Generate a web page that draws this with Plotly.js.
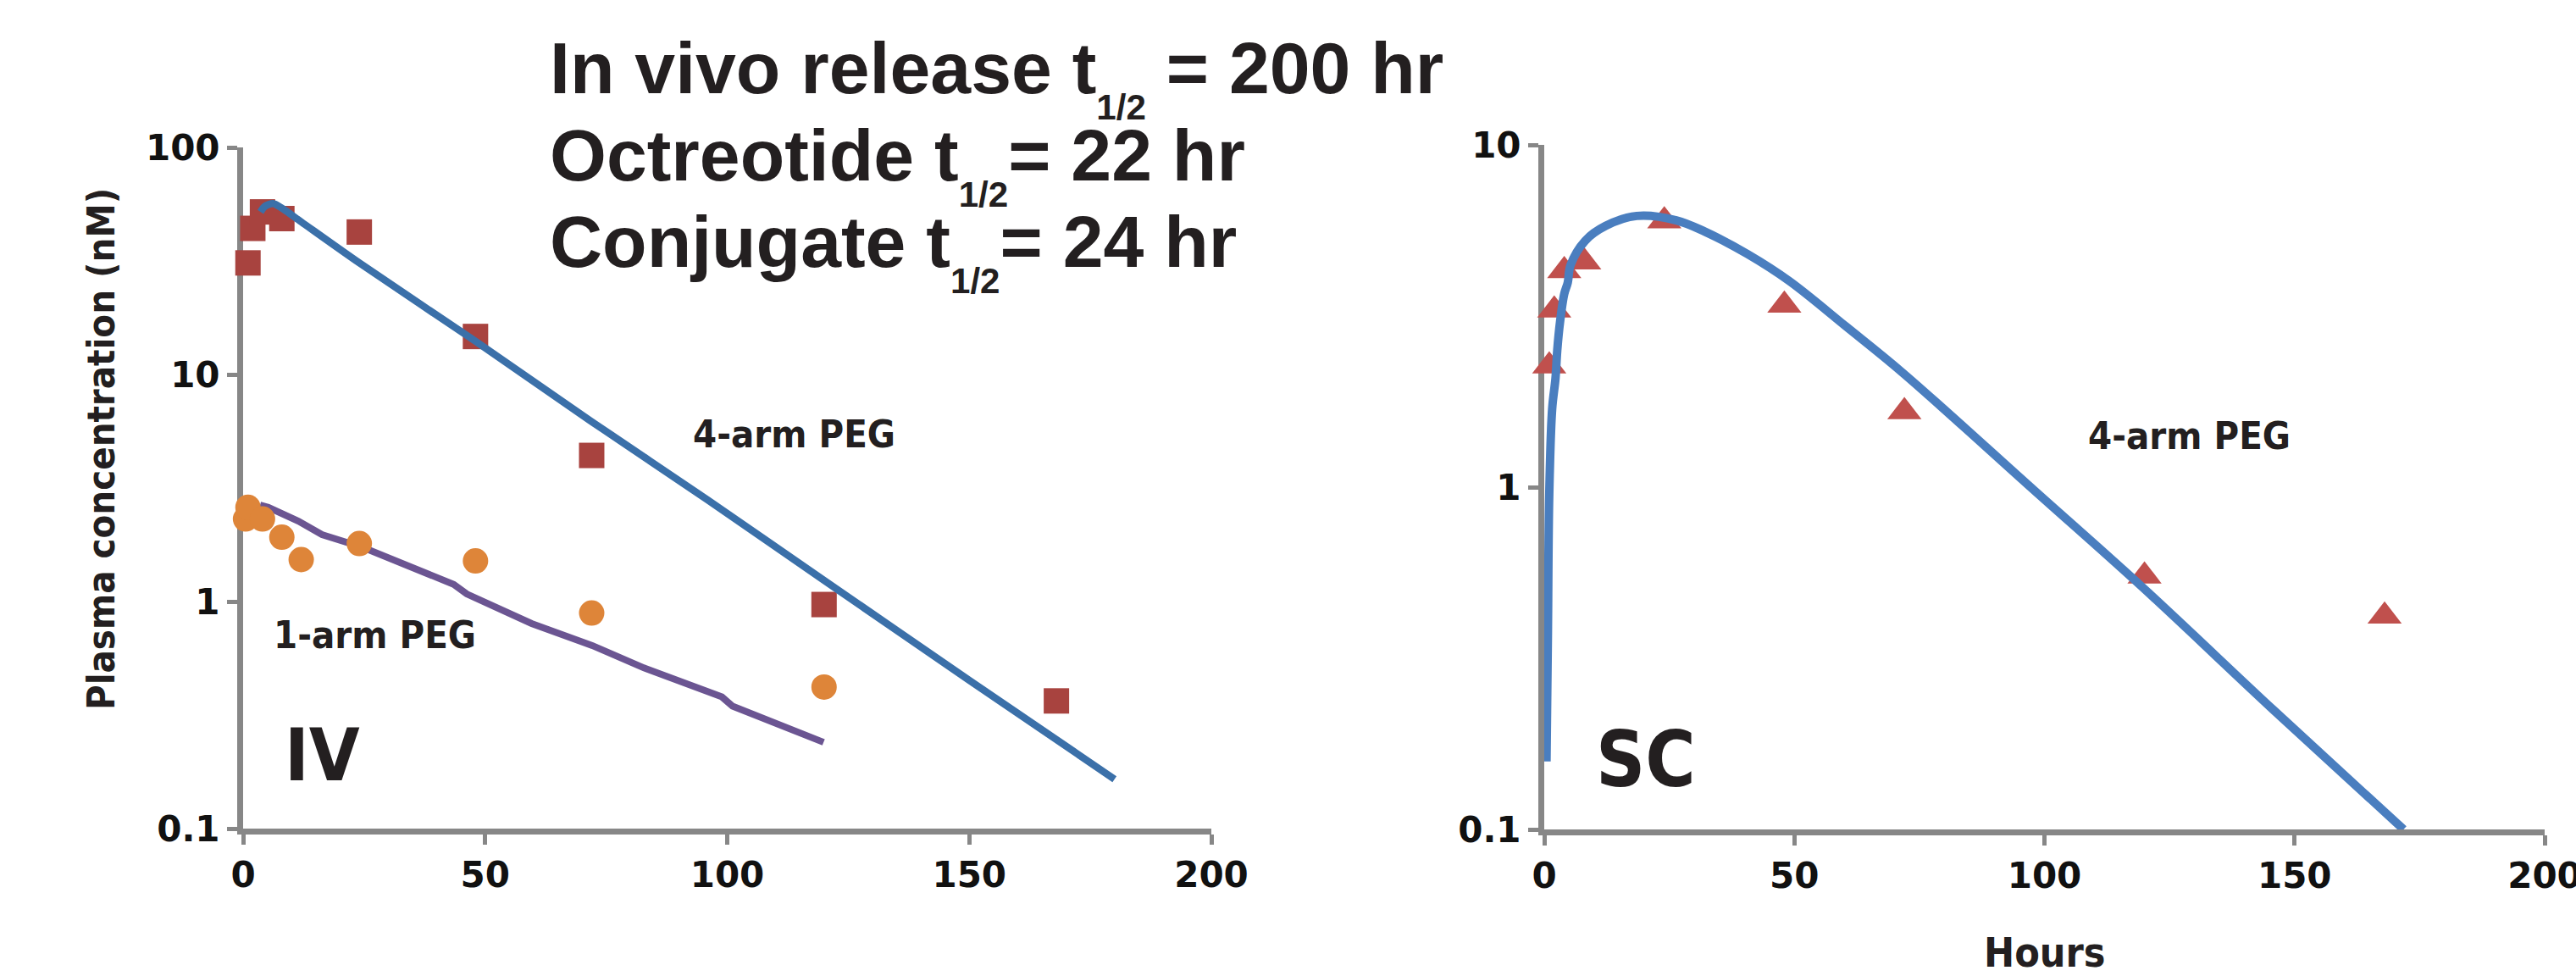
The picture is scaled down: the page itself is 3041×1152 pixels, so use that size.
<!DOCTYPE html>
<html>
<head>
<meta charset="utf-8">
<script src="https://cdn.plot.ly/plotly-3.0.1.min.js"></script>
<style>
html, body { margin: 0; padding: 0; background: #ffffff; }
#chart { width: 3041px; height: 1152px; }
</style>
</head>
<body>
<div id="chart"></div>
<script>
// ---------- DATA ----------
// IV panel, 4-arm PEG conjugate (squares)
const ivFourArmHours = [1, 2, 4, 8, 24, 48, 72, 120, 168];
const ivFourArmConc  = [31, 44, 52, 48.6, 42.4, 14.7, 4.4, 0.97, 0.365];
// IV panel, 1-arm PEG conjugate (circles)
const ivOneArmHours = [0.5, 1, 4, 8, 12, 24, 48, 72, 120];
const ivOneArmConc  = [2.31, 2.6, 2.31, 1.92, 1.53, 1.8, 1.51, 0.89, 0.42];
// IV panel, model curve for 4-arm PEG
const ivFourArmFitHours = [3.6, 4.5, 6.2, 8, 12, 24, 48, 72, 96, 120, 150, 180];
const ivFourArmFitConc  = [52, 55, 56.6, 54, 47, 31, 14, 6.2, 2.8, 1.24, 0.45, 0.165];
// IV panel, model curve for 1-arm PEG
const ivOneArmFitHours = [3.5, 5.2, 11.4, 16.3, 24.8, 31.9, 43.5, 46.2, 59.6, 72.1, 82.8, 98.9, 101.1, 119.9];
const ivOneArmFitConc  = [2.66, 2.6, 2.26, 1.97, 1.73, 1.5, 1.19, 1.08, 0.8, 0.64, 0.51, 0.38, 0.346, 0.24];
// SC panel, 4-arm PEG conjugate (triangles)
const scHours = [1, 2, 4, 8, 24, 48, 72, 120, 168];
const scConc  = [2.26, 3.29, 4.29, 4.55, 6.0, 3.4, 1.66, 0.55, 0.42];
// SC panel, model curve
const scFitHours = [0.45, 0.73, 1.0, 1.58, 2.25, 2.6, 3.16, 4.0, 4.7, 5.25, 8.2, 12.3, 18.5, 26.4, 32.1, 40.6, 49, 60.3, 71.8, 97.9, 119.6, 145.7, 171.8];
const scFitConc  = [0.158, 0.369, 0.95, 1.69, 2.08, 2.51, 3.04, 3.67, 3.96, 4.45, 5.25, 5.8, 6.2, 6.02, 5.58, 4.8, 4.0, 2.95, 2.15, 0.98, 0.51, 0.224, 0.1];
// Tick labels
const xTickVals = [0, 50, 100, 150, 200];
const xTickText = ['0', '50', '100', '150', '200'];
const ivYTickVals = [0.1, 1, 10, 100];
const ivYTickText = ['0.1', '1', '10', '100'];
const scYTickVals = [0.1, 1, 10];
const scYTickText = ['0.1', '1', '10'];
// Texts
const yTitle = 'Plasma concentration (nM)';
const xTitle = 'Hours';
const headerLines = [
  'In vivo release t<sub><sub>1/2</sub></sub> = 200 hr',
  'Octreotide t<sub><sub>1/2</sub></sub>= 22 hr',
  'Conjugate t<sub><sub>1/2</sub></sub>= 24 hr'
];

// ---------- STYLE / LAYOUT ----------
const W = 3041, H = 1152;
const px = v => v / W;
const py = v => 1 - v / H;
const axisColor = '#878787';
const textColor = '#231F20';
const tickFont = { family: 'DejaVu Sans, sans-serif', size: 42, color: '#111111', weight: 'bold' };
const calib = size => ({ family: 'DejaVu Sans Condensed, DejaVu Sans, sans-serif', size: size, color: textColor, weight: 'bold' });
const arial = size => ({ family: 'Liberation Sans, Arial, sans-serif', size: size, color: textColor, weight: 'bold' });

const traces = [
  { x: ivFourArmHours, y: ivFourArmConc, xaxis: 'x', yaxis: 'y', type: 'scatter', mode: 'markers',
    marker: { symbol: 'square', size: 30, color: '#A8433F', line: { width: 0 } }, cliponaxis: false },
  { x: ivFourArmFitHours, y: ivFourArmFitConc, xaxis: 'x', yaxis: 'y', type: 'scatter', mode: 'lines',
    line: { color: '#3B70A9', width: 8.5, shape: 'spline', smoothing: 0.8 }, cliponaxis: false },
  { x: ivOneArmFitHours, y: ivOneArmFitConc, xaxis: 'x', yaxis: 'y', type: 'scatter', mode: 'lines',
    line: { color: '#6B5592', width: 8 }, cliponaxis: false },
  { x: ivOneArmHours, y: ivOneArmConc, xaxis: 'x', yaxis: 'y', type: 'scatter', mode: 'markers',
    marker: { symbol: 'circle', size: 30, color: '#DE8539', line: { width: 0 } }, cliponaxis: false },
  { x: scHours, y: scConc, xaxis: 'x2', yaxis: 'y2', type: 'scatter', mode: 'markers',
    marker: { symbol: 'triangle-up', size: 35, color: '#C0504D', line: { width: 0 } }, cliponaxis: false },
  { x: scFitHours, y: scFitConc, xaxis: 'x2', yaxis: 'y2', type: 'scatter', mode: 'lines',
    line: { color: '#4A7EBF', width: 10, shape: 'spline', smoothing: 1 }, cliponaxis: false }
];

const commonAxis = {
  showline: true, linecolor: axisColor, linewidth: 7,
  ticks: 'outside', ticklen: 12, tickwidth: 5, tickcolor: axisColor,
  showgrid: false, zeroline: false, tickfont: tickFont, layer: 'below traces', fixedrange: true,
  ticklabeloverflow: 'allow'
};

const annotations = [
  { text: yTitle, x: px(119), y: py(530), textangle: -90, font: calib(45) },
  { text: xTitle, x: px(2414), y: py(1124), font: calib(48) },
  { text: '4-arm PEG', x: px(938), y: py(512), font: calib(45) },
  { text: '1-arm PEG', x: px(443), y: py(749.5), font: calib(45) },
  { text: '4-arm PEG', x: px(2584.5), y: py(514.5), font: calib(45) },
  { text: 'IV', x: px(380), y: py(891), font: calib(86) },
  { text: 'SC', x: px(1943), y: py(896), font: calib(90) }
].map(a => Object.assign({ xref: 'paper', yref: 'paper', showarrow: false, xanchor: 'center', yanchor: 'middle' }, a));

const headerTops = [30, 133, 235];
headerLines.forEach((t, i) => {
  annotations.push({ text: t, xref: 'paper', yref: 'paper', x: px(647), y: py(headerTops[i]),
    xanchor: 'left', yanchor: 'top', showarrow: false, font: arial(86) });
});

const layout = {
  width: W, height: H,
  margin: { l: 0, r: 0, t: 0, b: 0, pad: 0 },
  paper_bgcolor: '#ffffff', plot_bgcolor: 'rgba(0,0,0,0)',
  showlegend: false,
  xaxis: Object.assign({}, commonAxis, { domain: [px(287), px(1430)], range: [0, 200], anchor: 'y',
    tickvals: xTickVals, ticktext: xTickText }),
  yaxis: Object.assign({}, commonAxis, { domain: [py(978), py(174)], type: 'log', range: [-1, 2], anchor: 'x',
    tickvals: ivYTickVals, ticktext: ivYTickText }),
  xaxis2: Object.assign({}, commonAxis, { domain: [px(1823), px(3004)], range: [0, 200], anchor: 'y2',
    tickvals: xTickVals, ticktext: xTickText }),
  yaxis2: Object.assign({}, commonAxis, { domain: [py(979), py(171)], type: 'log', range: [-1, 1], anchor: 'x2',
    tickvals: scYTickVals, ticktext: scYTickText }),
  annotations: annotations
};

Plotly.newPlot('chart', traces, layout, { displayModeBar: false, staticPlot: true });
</script>
</body>
</html>
